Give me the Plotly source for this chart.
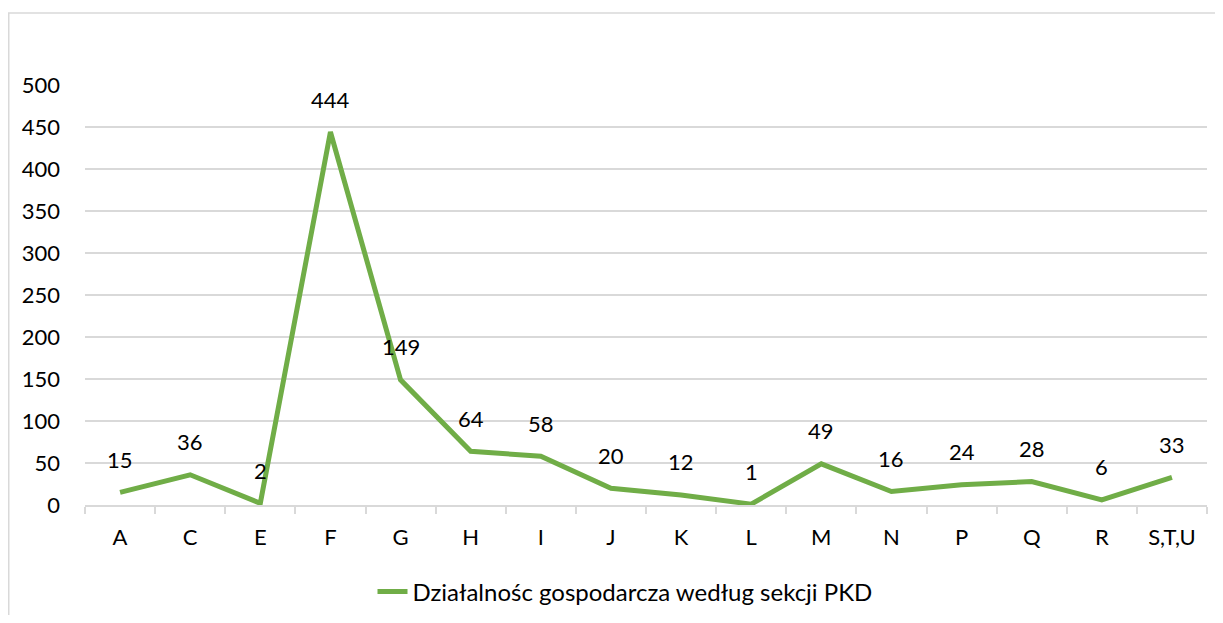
import plotly.graph_objects as go

categories = ["A", "C", "E", "F", "G", "H", "I", "J", "K", "L", "M", "N", "P", "Q", "R", "S,T,U"]
values = [15, 36, 2, 444, 149, 64, 58, 20, 12, 1, 49, 16, 24, 28, 6, 33]
series_name = "Działalnośc gospodarcza według sekcji PKD"
y_ticks = [0, 50, 100, 150, 200, 250, 300, 350, 400, 450, 500]

FONT = "Lato, Calibri, Carlito, sans-serif"
GREEN = "#70AD47"
GRID = "#D9D9D9"

# page body has an 8px margin; figure coordinates = target pixel - 8
OFF = 8
W, H = 1207, 607
L, R, T, B = 77, 8, 77, 110
pw, ph = W - L - R, H - T - B

def px_x(p):
    return (p - OFF - L) / pw

def px_y(p):
    return (H - B - (p - OFF)) / ph

fig = go.Figure()
fig.add_trace(go.Scatter(
    x=categories, y=values, name=series_name,
    mode="lines",
    line=dict(color=GREEN, width=5),
    cliponaxis=False,
))

for c, v in zip(categories, values):
    fig.add_annotation(x=c, y=v, text=str(v), showarrow=False,
                       yanchor="middle", yshift=33,
                       font=dict(family=FONT, size=22, color="#000000"))

fig.update_layout(
    width=W, height=H,
    margin=dict(l=L, r=R, t=T, b=B, autoexpand=False),
    paper_bgcolor="white", plot_bgcolor="white",
    font=dict(family=FONT, size=22, color="#000000"),
    showlegend=True,
    legend=dict(orientation="h", x=px_x(625), xanchor="center", y=px_y(592), yanchor="middle",
                font=dict(family=FONT, size=24, color="#000000")),
    xaxis=dict(
        type="category", showgrid=False, showline=True, linecolor=GRID, linewidth=1.5,
        ticks="outside", tickson="boundaries", ticklen=7, tickcolor=GRID, tickwidth=1.5,
        ticklabelstandoff=12, range=[-0.5, len(categories) - 0.5], automargin=False,
    ),
    yaxis=dict(
        range=[0, 500], tickvals=y_ticks, showgrid=True, gridcolor=GRID, gridwidth=1.5,
        zeroline=False, showline=False, ticks="", ticklabelstandoff=24, automargin=False,
    ),
)

fig.add_shape(type="rect", xref="paper", yref="paper",
              x0=px_x(8.75), x1=px_x(1240), y0=px_y(660), y1=px_y(13),
              line=dict(color=GRID, width=1.5), fillcolor="rgba(0,0,0,0)", layer="below")

fig.write_html("out.html")
